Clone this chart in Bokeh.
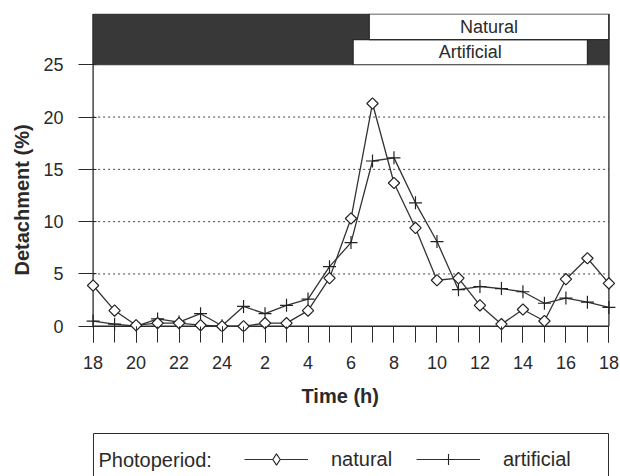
import numpy as np
from bokeh.plotting import figure
from bokeh.layouts import column
from bokeh.models import (FixedTicker, Legend, LegendItem, Range1d,
                          ColumnDataSource, Title)
from bokeh.embed import file_html
from bokeh.resources import INLINE
from bokeh.core.properties import value

# ---- data -------------------------------------------------------------
clock_hours = [18, 19, 20, 21, 22, 23, 24, 1, 2, 3, 4, 5, 6, 7, 8, 9, 10,
               11, 12, 13, 14, 15, 16, 17, 18]
natural = [3.9, 1.5, 0.1, 0.3, 0.3, 0.1, 0.0, 0.0, 0.3, 0.3, 1.5, 4.6, 10.3,
           21.3, 13.7, 9.4, 4.4, 4.6, 2.0, 0.2, 1.6, 0.5, 4.5, 6.5, 4.1]
artificial = [0.5, 0.2, 0.0, 0.7, 0.4, 1.2, 0.05, 1.9, 1.2, 2.0, 2.6, 5.7, 8.0,
              15.8, 16.1, 11.8, 8.1, 3.5, 3.8, 3.6, 3.3, 2.2, 2.7, 2.3, 1.8]
x_tick_labels = ["18", "20", "22", "24", "2", "4", "6", "8", "10", "12", "14",
                 "16", "18"]
y_ticks = [0, 5, 10, 15, 20, 25]
grid_values = [5, 10, 15, 20]
# light periods (clock hours: on, off)
natural_light = (6.85, 18.0)
artificial_light = (6.1, 17.0)
series_names = ["natural", "artificial"]
legend_title = "Photoperiod:"

FONT = "Liberation Sans"
INK = "#2a2a2a"
DARK = "#383838"

start_clock = clock_hours[0]
x = np.arange(len(clock_hours))          # elapsed hours from 18:00
x_end = float(x[-1])


def elapsed(h, end=False):
    v = (h - start_clock) % 24
    if end and v == 0:
        v = x_end
    return v


nat_on, nat_off = elapsed(natural_light[0]), elapsed(natural_light[1], end=True)
art_on, art_off = elapsed(artificial_light[0]), elapsed(artificial_light[1], end=True)

BORDER_L, BORDER_R = 83, 3
p = figure(width=620, height=420, output_backend="svg", toolbar_location=None,
           x_range=Range1d(-0.4, 24.4), y_range=Range1d(-0.5, 29.9),
           min_border_left=BORDER_L, min_border_right=BORDER_R,
           min_border_top=13, min_border_bottom=89)
p.outline_line_color = None
p.xgrid.visible = False
p.ygrid.visible = False
p.background_fill_color = "white"
p.border_fill_color = "white"

# ---- photoperiod bars -------------------------------------------------
art_lo, art_hi = 25.0, 27.4
nat_lo, nat_hi = 27.4, 29.85
p.quad(left=[0, art_off], right=[art_on, x_end], bottom=[art_lo, art_lo],
       top=[art_hi, art_hi], fill_color=DARK, line_color=DARK)
p.quad(left=[0], right=[nat_on], bottom=[nat_lo], top=[nat_hi],
       fill_color=DARK, line_color=DARK)
p.quad(left=[art_on], right=[art_off], bottom=[art_lo], top=[art_hi],
       fill_color="white", line_color=INK, line_width=1.2)
p.quad(left=[nat_on], right=[nat_off], bottom=[nat_lo], top=[nat_hi],
       fill_color="white", line_color=INK, line_width=1.2)
p.text(x=[(nat_on + nat_off) / 2, (art_on + art_off) / 2],
       y=[(nat_lo + nat_hi) / 2, (art_lo + art_hi) / 2],
       text=["Natural", "Artificial"], text_align="center",
       text_baseline="middle", text_font=value(FONT), text_font_size="18px",
       text_color=INK)

# ---- grid and frame lines ---------------------------------------------
p.segment(x0=[0] * len(grid_values), x1=[x_end] * len(grid_values),
          y0=grid_values, y1=grid_values, line_color="#444444",
          line_width=1, line_dash="2 3")
p.segment(x0=[0, x_end, 0], x1=[0, x_end, x_end], y0=[0, 0, 0],
          y1=[nat_hi, nat_hi, 0], line_color=INK, line_width=1.3)

# ---- series -----------------------------------------------------------
src = ColumnDataSource(dict(x=x, natural=natural, artificial=artificial))
p.line("x", "artificial", source=src, line_color="#333333", line_width=1.3)
p.line("x", "natural", source=src, line_color="#333333", line_width=1.3)
p.scatter("x", "artificial", source=src, marker="cross", size=13,
          line_color="#222222", line_width=1.2)
p.scatter("x", "natural", source=src, marker="square", angle=np.pi / 4,
          size=8, fill_color="white", line_color="#222222", line_width=1.2)

# ---- axes -------------------------------------------------------------
xa = p.xaxis[0]
xa.ticker = FixedTicker(ticks=list(range(0, 25, 2)), minor_ticks=list(range(25)))
xa.major_label_overrides = {k: lab for k, lab in zip(range(0, 25, 2), x_tick_labels)}
xa.axis_line_color = None
xa.major_tick_in = 5
xa.major_tick_out = 11
xa.minor_tick_in = 5
xa.minor_tick_out = 11
xa.major_tick_line_color = INK
xa.minor_tick_line_color = INK
xa.major_label_standoff = 13
xa.major_label_text_font = FONT
xa.major_label_text_font_size = "18px"
xa.major_label_text_color = INK

ya = p.yaxis[0]
ya.ticker = FixedTicker(ticks=y_ticks)
ya.axis_line_color = None
ya.major_tick_in = 12
ya.major_tick_out = 6
ya.minor_tick_line_color = None
ya.major_tick_line_color = INK
ya.major_label_standoff = 15
ya.major_label_text_font = FONT
ya.major_label_text_font_size = "18px"
ya.major_label_text_color = INK

# axis titles, offset so they sit at the centre of the data area
p.add_layout(Title(text="Detachment (%)", align="left", offset=56,
                   standoff=16, text_font=FONT, text_font_size="20px",
                   text_font_style="bold", text_color=INK), "left")
p.add_layout(Title(text="Time (h)", align="left", offset=217, standoff=22,
                   text_font=FONT, text_font_size="20px",
                   text_font_style="bold", text_color=INK), "below")

# ---- legend strip (its frame is aligned with the main frame) -----------
lf = figure(width=620, height=56, output_backend="svg", toolbar_location=None,
            x_range=Range1d(BORDER_L, 620 - BORDER_R), y_range=Range1d(0, 56),
            x_axis_type=None, y_axis_type=None, min_border=0)
lf.outline_line_color = None
lf.xgrid.visible = False
lf.ygrid.visible = False
lf.border_fill_color = "white"
# legend frame (bottom edge runs off the page, as in the original)
lf.quad(left=[92], right=[608], bottom=[-10], top=[43], fill_color="white",
        line_color=INK, line_width=1)
lf.text(x=[97], y=[17], text=[legend_title], text_align="left",
        text_baseline="middle", text_font=value(FONT), text_font_size="20px",
        text_color=INK)
# hidden proxies carrying the series, used only for the legend keys
lsrc = ColumnDataSource(dict(x=x, natural=natural, artificial=artificial))
ln = lf.line("x", "natural", source=lsrc, line_color="#333333",
             line_width=1.2, visible=False)
pn = lf.scatter("x", "natural", source=lsrc, marker="diamond",
                fill_color="white", line_color="#222222", line_width=1.1,
                visible=False)
la = lf.line("x", "artificial", source=lsrc, line_color="#333333",
             line_width=1.2, visible=False)
pa = lf.scatter("x", "artificial", source=lsrc, marker="cross",
                line_color="#222222", line_width=1.1, visible=False)
legend = Legend(
    items=[LegendItem(label=series_names[0], renderers=[ln, pn], index=0),
           LegendItem(label=series_names[1], renderers=[la, pa], index=0)],
    orientation="horizontal", location=(243 - BORDER_L, 3), margin=0,
    padding=0, spacing=0, glyph_width=64, glyph_height=28, label_height=28,
    label_width=85, label_standoff=23, label_text_font=FONT,
    label_text_font_size="20px", label_text_color=INK,
    border_line_color=None, background_fill_alpha=0.0,
)
lf.add_layout(legend)

layout = column(p, lf, spacing=0)
open("out.html", "w").write(file_html(layout, INLINE))
